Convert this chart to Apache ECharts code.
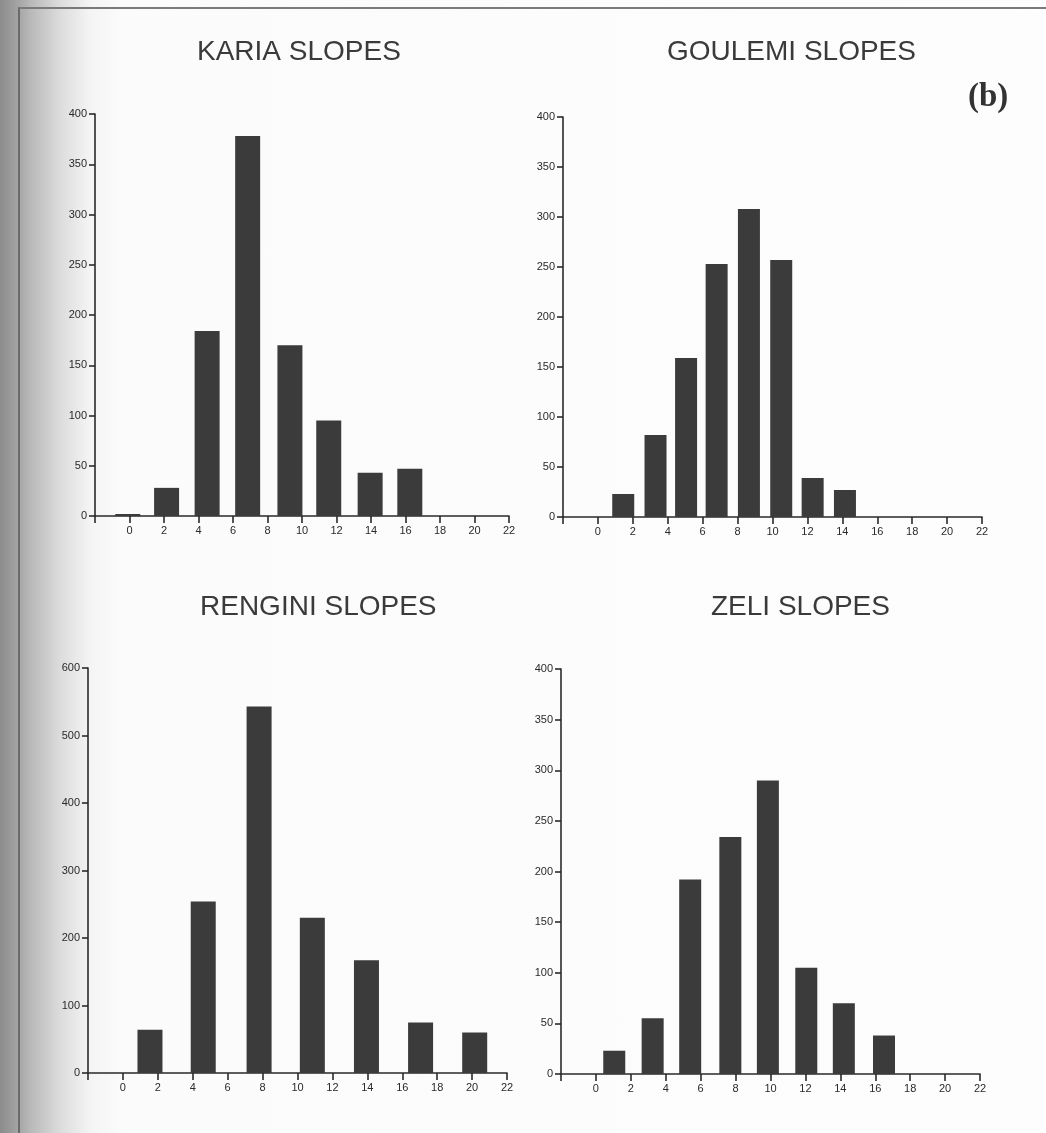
<!DOCTYPE html>
<html>
<head>
<meta charset="utf-8">
<script src="https://cdn.jsdelivr.net/npm/echarts@6/dist/echarts.min.js"></script>
<style>
  html, body {
    margin: 0;
    padding: 0;
  }
  body {
    width: 1046px;
    height: 1133px;
    background: linear-gradient(to right, #8c8c8c 0px, #a4a4a4 18px, #b8b8b8 30px, #dcdcdc 60px, #f4f4f4 90px, #fbfbfb 120px, #fdfdfd 1046px);
    position: relative;
    overflow: hidden;
  }
  .page-edge {
    position: absolute;
    left: 18px;
    top: 7px;
    right: 0;
    bottom: 0;
    border-left: 2px solid #6a6a6a;
    border-top: 2px solid #7a7a7a;
  }
  #chart {
    position: absolute;
    left: 0;
    top: 0;
    width: 1046px;
    height: 1133px;
  }
</style>
</head>
<body>
<div class="page-edge"></div>
<div id="chart"></div>
<script>
  // slope classes (bar centres, degrees) and counts
  const kariaBins = [-0.1, 2.15, 4.5, 6.85, 9.3, 11.55, 13.95, 16.25]
  const kariaCounts = [2, 28, 184, 378, 170, 95, 43, 47]

  const goulemiBins = [1.45, 3.3, 5.05, 6.8, 8.65, 10.5, 12.3, 14.15]
  const goulemiCounts = [23, 82, 159, 253, 308, 257, 39, 27]

  const renginiBins = [1.55, 4.6, 7.8, 10.85, 13.95, 17.05, 20.15]
  const renginiCounts = [64, 254, 543, 230, 167, 75, 60]

  const zeliBins = [1.05, 3.25, 5.4, 7.7, 9.85, 12.05, 14.2, 16.5]
  const zeliCounts = [23, 55, 192, 234, 290, 105, 70, 38]

  const xTicks = [-2, 0, 2, 4, 6, 8, 10, 12, 14, 16, 18, 20, 22]

  const panels = [
    { title: 'KARIA SLOPES', bins: kariaBins, counts: kariaCounts, yMax: 400, yStep: 50,
      grid: { left: 95, top: 114, width: 414, height: 402 }, titlePos: [192, 33], barWidth: 25 },
    { title: 'GOULEMI SLOPES', bins: goulemiBins, counts: goulemiCounts, yMax: 400, yStep: 50,
      grid: { left: 563, top: 117, width: 419, height: 400 }, titlePos: [662, 33], barWidth: 22 },
    { title: 'RENGINI SLOPES', bins: renginiBins, counts: renginiCounts, yMax: 600, yStep: 100,
      grid: { left: 88, top: 668, width: 419, height: 405 }, titlePos: [195, 588], barWidth: 25 },
    { title: 'ZELI SLOPES', bins: zeliBins, counts: zeliCounts, yMax: 400, yStep: 50,
      grid: { left: 561, top: 669, width: 419, height: 405 }, titlePos: [706, 588], barWidth: 22 }
  ]

  const inkColor = '#2a2a2a'
  const barColor = '#3b3b3b'

  const chart = echarts.init(document.getElementById('chart'), null, { renderer: 'canvas' })

  const option = {
    animation: false,
    title: panels.map(p => ({
      text: p.title,
      left: p.titlePos[0],
      top: p.titlePos[1],
      textStyle: {
        fontFamily: 'Liberation Sans',
        fontSize: 28,
        fontWeight: 'normal',
        color: '#3a3a3a'
      }
    })).concat([{
      text: '(b)',
      left: 963,
      top: 76,
      textStyle: {
        fontFamily: 'Liberation Serif',
        fontSize: 33,
        fontWeight: 'bold',
        color: '#333333'
      }
    }]),
    grid: panels.map(p => p.grid),
    xAxis: panels.map((p, i) => ({
      type: 'value',
      gridIndex: i,
      min: xTicks[0],
      max: xTicks[xTicks.length - 1],
      interval: 2,
      axisLine: { show: true, onZero: false, lineStyle: { color: inkColor, width: 1.6 } },
      axisTick: { show: true, length: 7, lineStyle: { color: inkColor, width: 1.6 } },
      axisLabel: {
        margin: 9,
        fontSize: 11,
        fontFamily: 'Liberation Sans',
        color: inkColor,
        formatter: v => (v < 0 ? '' : String(v))
      },
      splitLine: { show: false }
    })),
    yAxis: panels.map((p, i) => ({
      type: 'value',
      gridIndex: i,
      min: 0,
      max: p.yMax,
      interval: p.yStep,
      axisLine: { show: true, onZero: false, lineStyle: { color: inkColor, width: 1.6 } },
      axisTick: { show: true, length: 6, lineStyle: { color: inkColor, width: 1.6 } },
      axisLabel: {
        margin: 8,
        fontSize: 11,
        fontFamily: 'Liberation Sans',
        color: inkColor
      },
      splitLine: { show: false }
    })),
    series: panels.map((p, i) => ({
      type: 'bar',
      name: p.title,
      xAxisIndex: i,
      yAxisIndex: i,
      barWidth: p.barWidth,
      itemStyle: { color: barColor },
      data: p.bins.map((b, k) => [b, p.counts[k]])
    }))
  }

  chart.setOption(option)
</script>
</body>
</html>
